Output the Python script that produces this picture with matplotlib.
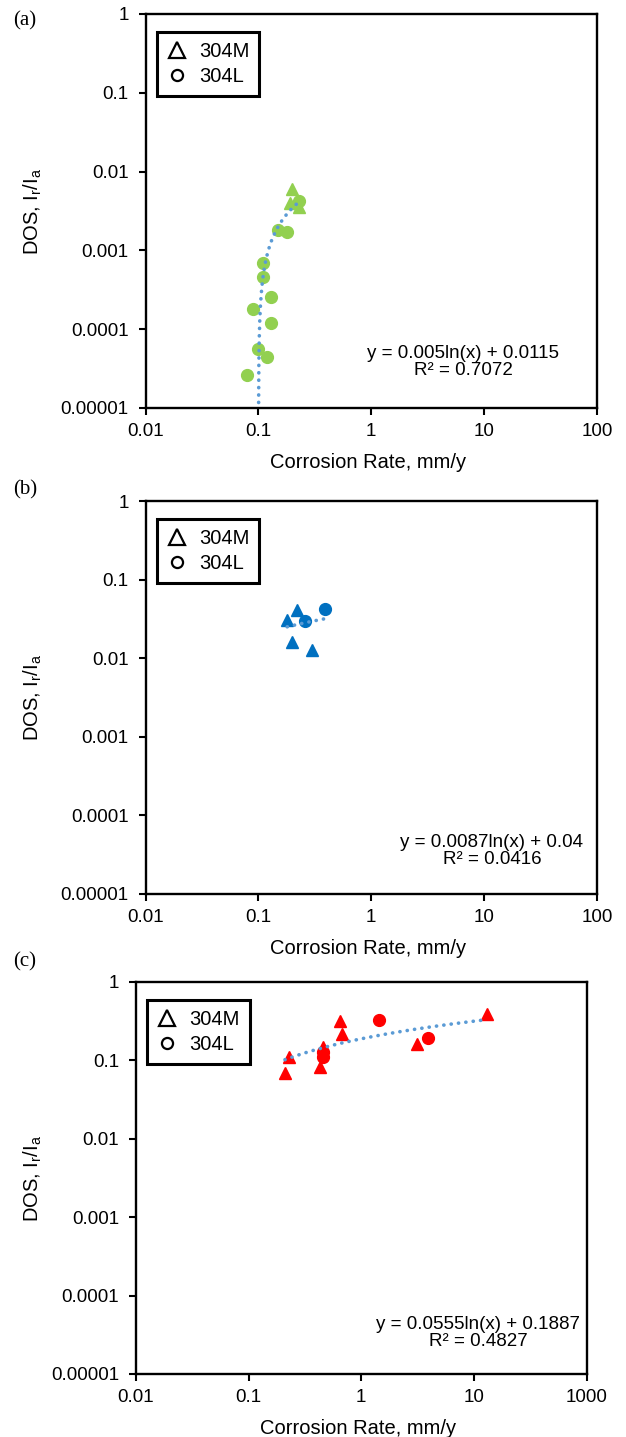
"""Degree of sensitisation vs corrosion rate for 304M / 304L, three panels."""
import matplotlib
matplotlib.use("Agg")
import matplotlib.pyplot as plt
import numpy as np
from matplotlib.lines import Line2D

plt.rcParams["font.family"] = ["Liberation Sans", "DejaVu Sans"]
plt.rcParams["mathtext.fontset"] = "custom"
plt.rcParams["mathtext.rm"] = "Liberation Sans"

# ---- data ---------------------------------------------------------------
a_304m_x = [0.20, 0.19, 0.23]
a_304m_y = [0.0061, 0.0040, 0.0036]
a_304l_x = [0.23, 0.148, 0.180, 0.109, 0.109, 0.129, 0.090, 0.129, 0.100, 0.119, 0.080]
a_304l_y = [0.0042, 0.0018, 0.0017, 0.00069, 0.00046, 0.00026, 0.00018, 0.00012,
            0.000056, 0.000044, 0.000026]

b_304m_x = [0.22, 0.18, 0.20, 0.30]
b_304m_y = [0.041, 0.031, 0.016, 0.0127]
b_304l_x = [0.26, 0.39]
b_304l_y = [0.030, 0.042]

c_304m_x = [13.1, 0.65, 0.67, 3.13, 0.23, 0.21, 0.46, 0.43]
c_304m_y = [0.39, 0.32, 0.22, 0.16, 0.109, 0.070, 0.150, 0.083]
c_304l_x = [1.45, 3.9, 0.46, 0.46]
c_304l_y = [0.33, 0.195, 0.129, 0.111]

# logarithmic trendlines as printed on the chart: y = k ln(x) + b
trend_a = (0.005, 0.0115, "y = 0.005ln(x) + 0.0115\nR² = 0.7072")
trend_b = (0.0087, 0.04, "y = 0.0087ln(x) + 0.04\nR² = 0.0416")
trend_c = (0.0555, 0.1887, "y = 0.0555ln(x) + 0.1887\nR² = 0.4827")

y_ticks = [1e-5, 1e-4, 1e-3, 1e-2, 1e-1, 1]
y_labels = ["0.00001", "0.0001", "0.001", "0.01", "0.1", "1"]
x_ticks = [0.01, 0.1, 1, 10, 100]
x_labels_ab = ["0.01", "0.1", "1", "10", "100"]
x_labels_c = ["0.01", "0.1", "1", "10", "1000"]

W, H = 626, 1437
TREND = "#5B9BD5"


def px_rect(l, r, t, b):
    return [l / W, 1 - b / H, (r - l) / W, (b - t) / H]


fig = plt.figure(figsize=(W / 100, H / 100), dpi=100, facecolor="white")

panels = [
    ("(a)", px_rect(145.5, 597, 14, 408), "#92D050",
     (a_304m_x, a_304m_y), (a_304l_x, a_304l_y), trend_a, x_labels_ab,
     (463, 362), 21),
    ("(b)", px_rect(145.5, 597, 501, 894), "#0070C0",
     (b_304m_x, b_304m_y), (b_304l_x, b_304l_y), trend_b, x_labels_ab,
     (492, 851), 490),
    ("(c)", px_rect(136, 586.6, 982, 1374), "#FF0000",
     (c_304m_x, c_304m_y), (c_304l_x, c_304l_y), trend_c, x_labels_c,
     (478, 1333), 962),
]

for tag, rect, col, m, l, trend, xlabs, eqpos, tag_y in panels:
    ax = fig.add_axes(rect)
    ax.set_xscale("log"); ax.set_yscale("log")
    ax.set_xlim(0.01, 100); ax.set_ylim(1e-5, 1)

    k, b, eq = trend
    allx = np.concatenate([m[0], l[0]])
    xs = np.geomspace(allx.min(), allx.max(), 400)
    ys = k * np.log(xs) + b
    ys = np.where(ys > 0, ys, np.nan)
    ax.plot(xs, ys, color=TREND, lw=2.6, ls=(0, (0.05, 2.0)),
            dash_capstyle="round", zorder=3)

    ax.plot(m[0], m[1], ls="none", marker="^", ms=9, color=col, mec=col, zorder=2)
    ax.plot(l[0], l[1], ls="none", marker="o", ms=8.5, color=col, mec=col, zorder=2)

    ax.set_xticks(x_ticks); ax.set_xticklabels(xlabs)
    ax.set_yticks(y_ticks); ax.set_yticklabels(y_labels)
    ax.minorticks_off()
    ax.tick_params(axis="both", which="major", direction="out", length=5,
                   width=1.5, labelsize=13.5, colors="black")
    ax.tick_params(axis="x", pad=6)
    ax.tick_params(axis="y", pad=7)
    ax.tick_params(top=False, right=False)
    for s in ax.spines.values():
        s.set_linewidth(1.7); s.set_color("black")

    handles = [
        Line2D([], [], ls="none", marker="^", ms=11, mfc="none", mec="black", mew=1.6),
        Line2D([], [], ls="none", marker="o", ms=8, mfc="none", mec="black", mew=1.6),
    ]
    leg = ax.legend(handles, ["304M", "304L"], loc="upper left",
                    bbox_to_anchor=(0.0244, 0.954), borderaxespad=0,
                    fontsize=14.5, frameon=True, fancybox=False, framealpha=1,
                    edgecolor="black", handlelength=1.0, handletextpad=0.6,
                    borderpad=0.5, labelspacing=0.3)
    leg.get_frame().set_linewidth(2.2)

    fig.text(eqpos[0] / W, 1 - eqpos[1] / H, eq, ha="center", va="center",
             multialignment="center", fontsize=13.5, linespacing=1.0)

    bb = ax.get_position()
    fig.text(33 / W, (bb.y0 + bb.y1) / 2, r"DOS, $\mathregular{I_r/I_a}$",
             rotation=90, ha="center", va="center", fontsize=14.5)
    fig.text((bb.x0 + bb.x1) / 2 - 3 / W, bb.y0 - 54 / H, "Corrosion Rate, mm/y",
             ha="center", va="center", fontsize=14.5)
    fig.text(25 / W, 1 - tag_y / H, tag, ha="center", va="center",
             fontsize=15, family="Liberation Serif")

fig.savefig("out.png", dpi=100, facecolor="white")
